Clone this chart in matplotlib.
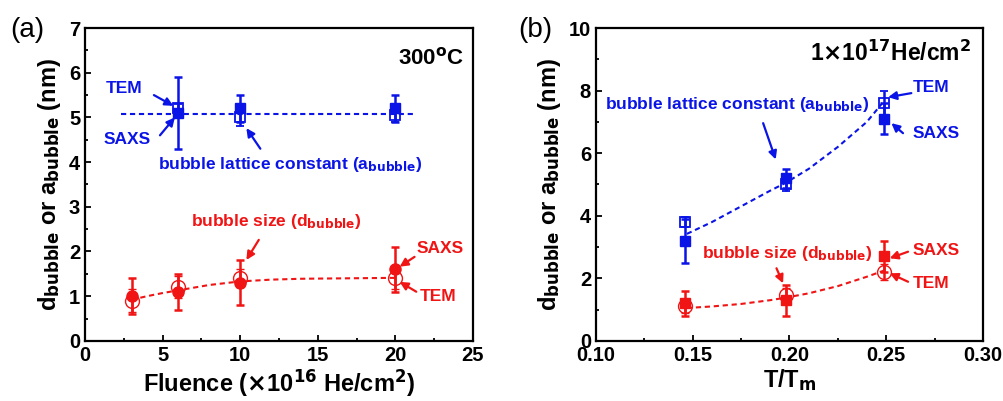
import numpy as np
import matplotlib.pyplot as plt
from matplotlib.ticker import MultipleLocator

plt.rcParams['font.family'] = ['Liberation Sans', 'DejaVu Sans']
plt.rcParams['font.weight'] = 'bold'
plt.rcParams['mathtext.default'] = 'regular'

# ---- panel (a): fluence series, 300 C ----
fl = [3, 6, 10, 20]
a_saxs_fl = [6, 10, 20]
a_saxs = [5.1, 5.2, 5.2]
a_saxs_err = [0.8, 0.3, 0.3]
a_tem = [5.2, 5.0, 5.05]
a_tem_err = [0.1, 0.2, 0.15]
a_line_x = [2.3, 21.2]
a_line_y = [5.07, 5.07]
d_saxs = [1.0, 1.1, 1.3, 1.6]
d_saxs_err = [0.4, 0.4, 0.5, 0.5]
d_tem = [0.9, 1.2, 1.4, 1.4]
d_tem_err = [0.25, 0.25, 0.2, 0.25]
d_fit_x = [3, 4, 5, 6, 8, 10, 12, 14, 17, 20]
d_fit_y = [0.92, 1.0, 1.07, 1.13, 1.25, 1.33, 1.37, 1.39, 1.40, 1.41]

# ---- panel (b): T/Tm series, 1e17 He/cm2 ----
tt = [0.146, 0.198, 0.249]
b_a_saxs = [3.2, 5.2, 7.1]
b_a_saxs_err = [0.7, 0.3, 0.5]
b_a_tem = [3.8, 5.0, 7.6]
b_a_tem_err = [0.15, 0.2, 0.4]
b_a_fit_x = [0.147, 0.16, 0.175, 0.19, 0.198, 0.21, 0.225, 0.24, 0.248]
b_a_fit_y = [3.42, 3.8, 4.3, 4.8, 5.05, 5.5, 6.2, 7.0, 7.6]
b_d_saxs = [1.2, 1.3, 2.7]
b_d_saxs_err = [0.4, 0.5, 0.5]
b_d_tem = [1.1, 1.45, 2.2]
b_d_tem_err = [0.2, 0.25, 0.25]
b_d_fit_x = [0.147, 0.16, 0.175, 0.19, 0.198, 0.21, 0.225, 0.24, 0.249]
b_d_fit_y = [1.05, 1.1, 1.18, 1.3, 1.38, 1.52, 1.75, 2.05, 2.25]

blue = '#0a14e6'
red = '#f01414'

fig = plt.figure(figsize=(10.04, 4.01), dpi=100)
ax1 = fig.add_axes([0.0847, 0.150, 0.3863, 0.780])
ax2 = fig.add_axes([0.5936, 0.150, 0.3854, 0.780])

ebkw = dict(capsize=3, elinewidth=1.8, capthick=1.8, linestyle='none')
dash = (2.5, 1.8)

def arrow(ax, xy, xytext, c):
    ax.annotate('', xy=xy, xytext=xytext,
                arrowprops=dict(arrowstyle='-|>', color=c, lw=1.6, mutation_scale=12,
                                shrinkA=0, shrinkB=0))

# panel a
ax1.plot(a_line_x, a_line_y, '--', color=blue, lw=1.5, dashes=dash)
ax1.errorbar(fl[1:], a_tem, yerr=a_tem_err, marker='s', ms=7, mfc='none', mec=blue, mew=1.3, color=blue, **ebkw)
ax1.errorbar(a_saxs_fl, a_saxs, yerr=a_saxs_err, marker='s', ms=7, color=blue, **ebkw)
ax1.plot(d_fit_x, d_fit_y, '--', color=red, lw=1.5, dashes=dash)
ax1.errorbar(fl, d_tem, yerr=d_tem_err, marker='o', ms=10, mfc='none', mec=red, mew=1.0, color=red, **ebkw)
ax1.errorbar(fl, d_saxs, yerr=d_saxs_err, marker='o', ms=8, color=red, **ebkw)

ax1.set_xlim(0, 25)
ax1.set_ylim(0, 7)
ax1.xaxis.set_major_locator(MultipleLocator(5))
ax1.xaxis.set_minor_locator(MultipleLocator(2.5))
ax1.yaxis.set_major_locator(MultipleLocator(1))
ax1.yaxis.set_minor_locator(MultipleLocator(0.5))
ax1.set_xlabel(r'Fluence ($\mathbf{\times}$10$^{\mathbf{16}}$ He/cm$^{\mathbf{2}}$)', fontsize=17, fontweight='bold', labelpad=2)
ax1.set_ylabel(r'd$_{\mathbf{bubble}}$ or a$_{\mathbf{bubble}}$ (nm)', fontsize=17, fontweight='bold', labelpad=4)
ax1.text(24.4, 6.33, '300$^{\\mathbf{o}}$C', fontsize=16, ha='right', va='center', fontweight='bold')
fig.text(0.010, 0.925, '(a)', fontsize=20, fontweight='normal', va='center')

ax1.text(2.5, 5.65, 'TEM', color=blue, fontsize=12.5, ha='center', va='center', fontweight='bold')
arrow(ax1, (5.69, 5.26), (4.44, 5.5), blue)
ax1.text(2.7, 4.5, 'SAXS', color=blue, fontsize=12.5, ha='center', va='center', fontweight='bold')
arrow(ax1, (5.79, 5.0), (4.83, 4.6), blue)
ax1.text(4.7, 3.94, r'bubble lattice constant (a$_{\mathbf{bubble}}$)', color=blue, fontsize=12.5, va='center', fontweight='bold')
arrow(ax1, (10.4, 4.76), (11.3, 4.3), blue)
ax1.text(6.8, 2.67, r'bubble size (d$_{\mathbf{bubble}}$)', color=red, fontsize=12.5, va='center', fontweight='bold')
arrow(ax1, (10.4, 1.81), (11.2, 2.26), red)
ax1.text(21.35, 2.07, 'SAXS', color=red, fontsize=12.5, va='center', fontweight='bold')
arrow(ax1, (20.28, 1.66), (21.24, 1.88), red)
ax1.text(21.57, 0.99, 'TEM', color=red, fontsize=12.5, va='center', fontweight='bold')
arrow(ax1, (20.28, 1.32), (21.35, 1.10), red)

# panel b
ax2.plot(b_a_fit_x, b_a_fit_y, '--', color=blue, lw=1.5, dashes=dash)
ax2.errorbar(tt, b_a_tem, yerr=b_a_tem_err, marker='s', ms=7, mfc='none', mec=blue, mew=1.3, color=blue, **ebkw)
ax2.errorbar(tt, b_a_saxs, yerr=b_a_saxs_err, marker='s', ms=7, color=blue, **ebkw)
ax2.plot(b_d_fit_x, b_d_fit_y, '--', color=red, lw=1.5, dashes=dash)
ax2.errorbar(tt, b_d_tem, yerr=b_d_tem_err, marker='o', ms=10, mfc='none', mec=red, mew=1.0, color=red, **ebkw)
ax2.errorbar(tt, b_d_saxs, yerr=b_d_saxs_err, marker='s', ms=7, color=red, **ebkw)

ax2.set_xlim(0.10, 0.30)
ax2.set_ylim(0, 10)
ax2.xaxis.set_major_locator(MultipleLocator(0.05))
ax2.xaxis.set_minor_locator(MultipleLocator(0.025))
ax2.yaxis.set_major_locator(MultipleLocator(2))
ax2.yaxis.set_minor_locator(MultipleLocator(1))
ax2.xaxis.set_major_formatter(plt.FormatStrFormatter('%.2f'))
ax2.set_xlabel(r'T/T$_{\mathbf{m}}$', fontsize=17, fontweight='bold', labelpad=2)
ax2.set_ylabel(r'd$_{\mathbf{bubble}}$ or a$_{\mathbf{bubble}}$ (nm)', fontsize=17, fontweight='bold', labelpad=4)
ax2.text(0.294, 9.2, r'1$\mathbf{\times}$10$^{\mathbf{17}}$He/cm$^{\mathbf{2}}$', fontsize=16.5, ha='right', va='center', fontweight='bold')
fig.text(0.516, 0.925, '(b)', fontsize=20, fontweight='normal', va='center')

ax2.text(0.2734, 8.11, 'TEM', color=blue, fontsize=12.5, ha='center', va='center', fontweight='bold')
arrow(ax2, (0.251, 7.79), (0.263, 7.92), blue)
ax2.text(0.276, 6.64, 'SAXS', color=blue, fontsize=12.5, ha='center', va='center', fontweight='bold')
arrow(ax2, (0.2527, 6.96), (0.2587, 6.64), blue)
ax2.text(0.1046, 7.55, r'bubble lattice constant (a$_{\mathbf{bubble}}$)', color=blue, fontsize=12.5, va='center', fontweight='bold')
arrow(ax2, (0.1929, 5.8), (0.1864, 6.96), blue)
ax2.text(0.1546, 2.8, r'bubble size (d$_{\mathbf{bubble}}$)', color=red, fontsize=12.5, va='center', fontweight='bold')
arrow(ax2, (0.1967, 1.84), (0.1933, 2.32), red)
ax2.text(0.276, 2.88, 'SAXS', color=red, fontsize=12.5, ha='center', va='center', fontweight='bold')
arrow(ax2, (0.2518, 2.64), (0.2613, 2.85), red)
ax2.text(0.2734, 1.84, 'TEM', color=red, fontsize=12.5, ha='center', va='center', fontweight='bold')
arrow(ax2, (0.2518, 2.16), (0.2613, 1.89), red)

for ax in (ax1, ax2):
    ax.tick_params(which='both', direction='in', labelsize=14.5, width=1.3)
    ax.tick_params(which='major', length=4.5)
    ax.tick_params(which='minor', length=2.5)
    for lab in ax.get_xticklabels() + ax.get_yticklabels():
        lab.set_fontweight('bold')
    for s in ax.spines.values():
        s.set_linewidth(1.6)

fig.savefig('out.png', dpi=100)
